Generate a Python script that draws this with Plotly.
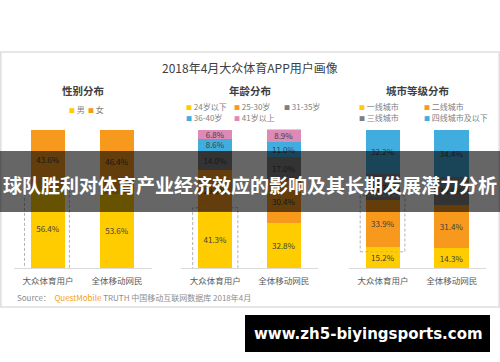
import plotly.graph_objects as go

# ---------------- data ----------------
categories = ["大众体育用户", "全体移动网民"]

gender_names = ["男", "女"]
gender_male = [56.4, 53.6]
gender_female = [43.6, 46.4]

age_names = ["24岁以下", "25-30岁", "31-35岁", "36-40岁", "41岁以上"]
age_24_below = [41.3, 32.8]
age_25_30 = [29.3, 30.4]
age_31_35 = [14.0, 17.0]
age_36_40 = [8.6, 11.0]
age_41_above = [6.8, 8.9]

city_names = ["一线城市", "二线城市", "三线城市", "四线城市及以下"]
city_tier1 = [15.2, 14.3]
city_tier2 = [33.9, 31.4]
city_tier3 = [18.7, 19.9]
city_tier4 = [32.2, 34.4]

chart_title = "2018年4月大众体育APP用户画像"
panel_titles = ["性别分布", "年龄分布", "城市等级分布"]
banner_text = "球队胜利对体育产业经济效应的影响及其长期发展潜力分析"
watermark_text = "www.zh5-biyingsports.com"

# ---------------- styles ----------------
W, H = 500, 362
FONT = "Noto Sans CJK SC"
YELLOW, ORANGE, GRAY, BLUE, PINK = "#FFCC00", "#F7991D", "#7F7F7F", "#41ADDE", "#DE8AB6"


def px(x):
    return x / W


def py(y):
    return 1 - y / H


fig = go.Figure()


def add_bars(names, series, colors, xa, ya):
    for name, vals, col in zip(names, series, colors):
        fig.add_trace(go.Bar(
            x=categories, y=vals, name=name,
            marker=dict(color=col, line=dict(width=0)),
            text=[f"{v:.1f}%" for v in vals],
            textposition="inside", insidetextanchor="middle", textangle=0,
            constraintext="none",
            textfont=dict(size=8, color="#404040", family=FONT),
            xaxis=xa, yaxis=ya, showlegend=False, hoverinfo="skip",
        ))


add_bars(gender_names, [gender_male, gender_female], [YELLOW, ORANGE], "x", "y")
add_bars(age_names, [age_24_below, age_25_30, age_31_35, age_36_40, age_41_above],
         [YELLOW, ORANGE, GRAY, BLUE, PINK], "x2", "y2")
add_bars(city_names, [city_tier1, city_tier2, city_tier3, city_tier4],
         [YELLOW, ORANGE, GRAY, BLUE], "x3", "y3")

ydom = [py(268), py(129.5)]
xdoms = [[px(13.5), px(151.5)], [px(181), px(318)], [px(348.5), px(486)]]

xcommon = dict(showline=True, linecolor="#d9d9d9", linewidth=1, showgrid=False,
               zeroline=False, ticks="", ticklabelstandoff=5,
               tickfont=dict(size=8.5, color="#595959", family=FONT), fixedrange=True)
ycommon = dict(range=[0, 100], visible=False, fixedrange=True, domain=ydom)

layout_axes = {}
for i, dom in enumerate(xdoms):
    sfx = "" if i == 0 else str(i + 1)
    layout_axes["xaxis" + sfx] = dict(domain=dom, anchor="y" + sfx, **xcommon)
    layout_axes["yaxis" + sfx] = dict(anchor="x" + sfx, **ycommon)

shapes = []
# panel border
shapes.append(dict(type="rect", xref="paper", yref="paper", x0=px(0.8), x1=px(499.2),
                   y0=py(307), y1=py(52), line=dict(color="#dedede", width=1.5), layer="below"))
# dashed highlight boxes
dash = dict(color="#b3b3b3", width=1, dash="3px,2px")
shapes.append(dict(type="rect", xref="x", yref="y", x0=-0.34, x1=0.31,
                   y0=-3.6, y1=gender_male[0] + 1.5, line=dash, layer="above"))
shapes.append(dict(type="rect", xref="x2", yref="y2", x0=-0.33, x1=0.33,
                   y0=-3.6, y1=age_24_below[0] + 2.2, line=dash, layer="above"))
shapes.append(dict(type="rect", xref="x3", yref="y3", x0=-0.33, x1=0.32,
                   y0=city_tier1[0] - 3.5, y1=city_tier1[0] + city_tier2[0] + 3,
                   line=dash, layer="above"))
# overlay banner
shapes.append(dict(type="rect", xref="paper", yref="paper", x0=0, x1=1,
                   y0=py(212), y1=py(151), fillcolor="rgba(0,0,0,0.6)",
                   line=dict(width=0), layer="above"))
# watermark box
shapes.append(dict(type="rect", xref="paper", yref="paper", x0=px(245), x1=px(490),
                   y0=py(352), y1=py(315), fillcolor="#000000",
                   line=dict(width=0), layer="above"))

ann = []


def text_at(text, x, y, size, color, family=FONT, xanchor="center"):
    ann.append(dict(text=text, x=px(x), y=py(y), xref="paper", yref="paper",
                    xanchor=xanchor, yanchor="middle", showarrow=False,
                    font=dict(size=size, color=color, family=family)))


text_at(chart_title, 250, 68, 12, "#404040")
for t, cx in zip(panel_titles, [83, 250, 417]):
    text_at(f"<b>{t}</b>", cx, 90, 10.5, "#404040")


def legend_item(name, col, x, y):
    text_at(f"<span style='color:{col};font-size:6px'>■</span> {name}", x, y, 8, "#808080",
            xanchor="left")


legend_item(gender_names[0], YELLOW, 67, 109)
legend_item(gender_names[1], ORANGE, 86, 109)

age_cols = [YELLOW, ORANGE, GRAY, BLUE, PINK]
age_pos = [(184, 107), (232, 107), (282, 107), (184, 117), (232, 117)]
for n, c, (x, y) in zip(age_names, age_cols, age_pos):
    legend_item(n, c, x, y)

city_cols = [YELLOW, ORANGE, GRAY, BLUE]
city_pos = [(357, 107), (422, 107), (357, 117), (422, 117)]
for n, c, (x, y) in zip(city_names, city_cols, city_pos):
    legend_item(n, c, x, y)

text_at("Source：  <span style='color:#F5A020'>QuestMobile</span> TRUTH 中国移动互联网数据库 2018年4月",
        15, 297, 8, "#8c8c8c", xanchor="left")

text_at(f"<b>{banner_text}</b>", 250, 184, 19, "#ffffff")
text_at(f"<b>{watermark_text}</b>", 368, 334, 15, "#ffffff", family="DejaVu Sans")

fig.update_layout(
    width=W, height=H, margin=dict(l=0, r=0, t=0, b=0),
    paper_bgcolor="#ffffff", plot_bgcolor="rgba(0,0,0,0)",
    barmode="stack", bargap=0.5,
    shapes=shapes, annotations=ann,
    font=dict(family=FONT),
    **layout_axes,
)

fig.write_html("out.html", config={"displayModeBar": False},
               post_script="document.body.style.margin='0';document.body.style.overflow='hidden';")
